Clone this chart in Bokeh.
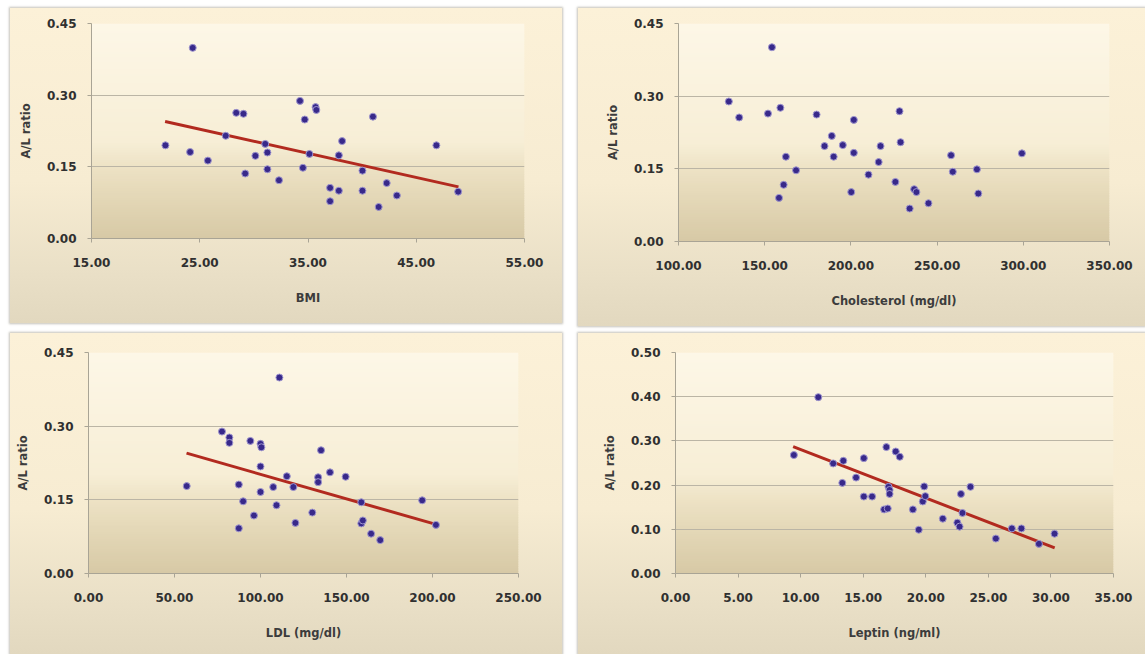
import numpy as np
from bokeh.plotting import figure
from bokeh.models import Range1d, FixedTicker, NumeralTickFormatter
from bokeh.layouts import column, row
from bokeh.embed import file_html
from bokeh.resources import INLINE

# ---------------- data ----------------
bmi = [21.83, 24.35, 24.11, 25.75, 27.40, 28.37, 29.04, 29.20, 30.14, 31.05, 31.25,
       31.25, 32.32, 34.26, 34.70, 34.53, 35.13, 35.70, 35.77, 37.04, 37.04, 37.85,
       37.85, 38.15, 40.03, 40.03, 41.00, 41.53, 42.27, 43.21, 46.86, 48.87]
bmi_ratio = [0.195, 0.399, 0.181, 0.163, 0.215, 0.263, 0.261, 0.136, 0.173, 0.198, 0.180,
             0.145, 0.122, 0.288, 0.249, 0.148, 0.177, 0.275, 0.269, 0.106, 0.078, 0.100,
             0.174, 0.204, 0.142, 0.100, 0.255, 0.066, 0.116, 0.090, 0.195, 0.098]
bmi_trend_x = [21.8, 48.9]
bmi_trend_y = [0.245, 0.108]

chol = [129.2, 135.2, 151.9, 154.2, 159.1, 158.3, 161.0, 162.3, 168.2, 180.1, 184.7,
        188.9, 190.0, 195.3, 200.2, 201.7, 201.7, 210.2, 216.1, 217.2, 225.8, 228.2,
        228.8, 234.1, 236.7, 238.0, 245.0, 258.1, 259.1, 273.1, 273.9, 299.2]
chol_ratio = [0.289, 0.256, 0.264, 0.401, 0.276, 0.090, 0.117, 0.175, 0.147, 0.262, 0.197,
              0.218, 0.175, 0.199, 0.102, 0.251, 0.183, 0.138, 0.164, 0.197, 0.123, 0.269,
              0.205, 0.068, 0.108, 0.102, 0.079, 0.178, 0.144, 0.149, 0.099, 0.182]

ldl = [57.1, 77.6, 81.9, 81.9, 87.4, 87.4, 89.9, 94.1, 96.2, 100.0, 100.5, 100.0, 100.0,
       107.4, 109.3, 111.0, 115.3, 119.1, 120.3, 130.1, 133.5, 133.5, 135.2, 140.4, 149.5,
       158.6, 158.6, 159.5, 164.3, 169.6, 194.0, 202.0]
ldl_ratio = [0.178, 0.289, 0.277, 0.266, 0.181, 0.092, 0.147, 0.270, 0.118, 0.264, 0.257,
             0.218, 0.166, 0.176, 0.139, 0.399, 0.198, 0.176, 0.103, 0.124, 0.196, 0.186,
             0.251, 0.206, 0.197, 0.145, 0.102, 0.108, 0.081, 0.068, 0.149, 0.099]
ldl_trend_x = [57.0, 202.0]
ldl_trend_y = [0.245, 0.100]

leptin = [9.46, 11.41, 12.60, 13.41, 13.33, 14.43, 15.05, 15.05, 15.71, 16.67, 16.96,
          16.85, 17.02, 17.11, 17.11, 17.60, 17.92, 18.97, 19.44, 19.87, 19.76, 19.96,
          21.36, 22.52, 22.70, 22.81, 22.93, 23.57, 25.60, 26.88, 27.64, 29.04, 30.29]
leptin_ratio = [0.268, 0.399, 0.249, 0.255, 0.205, 0.217, 0.261, 0.174, 0.174, 0.145, 0.147,
                0.286, 0.196, 0.189, 0.180, 0.276, 0.264, 0.145, 0.099, 0.197, 0.163, 0.175,
                0.124, 0.115, 0.106, 0.180, 0.137, 0.196, 0.079, 0.102, 0.102, 0.067, 0.090]
leptin_trend_x = [9.4, 30.3]
leptin_trend_y = [0.287, 0.058]

bmi_ticks = [15, 25, 35, 45, 55]
chol_ticks = [100, 150, 200, 250, 300, 350]
ldl_ticks = [0, 50, 100, 150, 200, 250]
leptin_ticks = [0, 5, 10, 15, 20, 25, 30, 35]
ratio_ticks = [0.0, 0.15, 0.30, 0.45]
leptin_ratio_ticks = [0.0, 0.1, 0.2, 0.3, 0.4, 0.5]

y_label = "A/L ratio"

# ---------------- styling helpers ----------------
FONT = "DejaVu Sans"
TEXT = "#303030"
AXIS = "#a9a495"
GRID = "#bbb5a5"
DOT = "#38298a"
HALO = "#9f96cf"
TREND = "#b22a1f"

frame_stops = [(0.0, "#fdf7e7"), (0.55, "#f7eed6"), (0.68, "#ece1c3"), (1.0, "#d7c9a5")]


def hex2rgb(h):
    h = h.lstrip("#")
    return np.array([int(h[i:i + 2], 16) for i in (0, 2, 4)], dtype=float)


def interp_color(t):
    for (t0, c0), (t1, c1) in zip(frame_stops[:-1], frame_stops[1:]):
        if t0 <= t <= t1:
            f = 0 if t1 == t0 else (t - t0) / (t1 - t0)
            c = hex2rgb(c0) * (1 - f) + hex2rgb(c1) * f
            return "#%02x%02x%02x" % tuple(int(round(v)) for v in c)
    return frame_stops[-1][1]


def add_frame_gradient(p, x0, x1, y0, y1, n=90):
    edges = np.linspace(y1, y0, n + 1)
    step = (y1 - y0) / n
    tops = edges[:-1]
    bottoms = edges[1:] - step * 0.4
    bottoms[-1] = y0
    cols = [interp_color((i + 0.5) / n) for i in range(n)]
    p.quad(left=x0, right=x1, top=tops, bottom=bottoms, fill_color=cols,
           line_color=None, level="underlay")


def make_panel(x, y, xr, yr, xticks, yticks, xlabel, w, h, borders, margin,
               trend_x=None, trend_y=None):
    left, right, top, bottom = borders
    p = figure(width=w, height=h, x_range=Range1d(*xr), y_range=Range1d(*yr),
               output_backend="svg", toolbar_location=None,
               min_border_left=left, min_border_right=right,
               min_border_top=top, min_border_bottom=bottom,
               border_fill_color=None, background_fill_color=None,
               outline_line_color=None, margin=margin)
    p.styles = {
        "background": "linear-gradient(to bottom, #fcf1d8 0%, #f7ecd2 55%, #e9dfc6 85%, #e2d8bf 100%)",
        "box-shadow": "0px 0px 2px 1px rgba(150,145,130,0.55)",
    }
    add_frame_gradient(p, xr[0], xr[1], yr[0], yr[1])

    p.xgrid.visible = False
    p.ygrid.ticker = FixedTicker(ticks=yticks)
    p.ygrid.grid_line_color = GRID
    p.ygrid.grid_line_width = 1

    for ax in (p.xaxis[0], p.yaxis[0]):
        ax.axis_line_color = AXIS
        ax.major_tick_line_color = AXIS
        ax.minor_tick_line_color = None
        ax.major_tick_in = 0
        ax.major_tick_out = 4
        ax.major_label_text_font = FONT
        ax.major_label_text_font_style = "bold"
        ax.major_label_text_font_size = "12px"
        ax.major_label_text_color = TEXT
        ax.axis_label_text_font = FONT
        ax.axis_label_text_font_style = "bold"
        ax.axis_label_text_font_size = "11.5px"
        ax.axis_label_text_color = "#3c3c3c"
        ax.formatter = NumeralTickFormatter(format="0.00")

    p.xaxis.ticker = FixedTicker(ticks=xticks)
    p.yaxis.ticker = FixedTicker(ticks=yticks)
    p.xaxis.axis_label = xlabel
    p.yaxis.axis_label = y_label
    p.xaxis.major_label_standoff = 15
    p.xaxis.axis_label_standoff = 21
    p.yaxis.major_label_standoff = 11
    p.yaxis.axis_label_standoff = 11

    if trend_x is not None:
        p.line(trend_x, trend_y, line_color=TREND, line_width=3)
    p.scatter(x, y, size=7, fill_color=DOT, line_color=HALO, line_width=1)
    return p


p1 = make_panel(bmi, bmi_ratio, (15, 55), (0, 0.45), bmi_ticks, ratio_ticks, "BMI",
                552, 315, (81, 38, 12, 85), (8, 0, 0, 10), bmi_trend_x, bmi_trend_y)
p2 = make_panel(chol, chol_ratio, (100, 350), (0, 0.45), chol_ticks, ratio_ticks,
                "Cholesterol (mg/dl)", 567, 318, (100, 36, 15, 84), (8, 0, 0, 16))
p3 = make_panel(ldl, ldl_ratio, (0, 250), (0, 0.45), ldl_ticks, ratio_ticks, "LDL (mg/dl)",
                552, 321, (78, 44, 19, 80), (7, 0, 0, 10), ldl_trend_x, ldl_trend_y)
p4 = make_panel(leptin, leptin_ratio, (0, 35), (0, 0.5), leptin_ticks, leptin_ratio_ticks,
                "Leptin (ng/ml)", 567, 321, (97, 32, 18, 81), (7, 0, 0, 16),
                leptin_trend_x, leptin_trend_y)

layout = column(row(p1, p2), row(p3, p4))
open("out.html", "w").write(file_html(layout, INLINE))
